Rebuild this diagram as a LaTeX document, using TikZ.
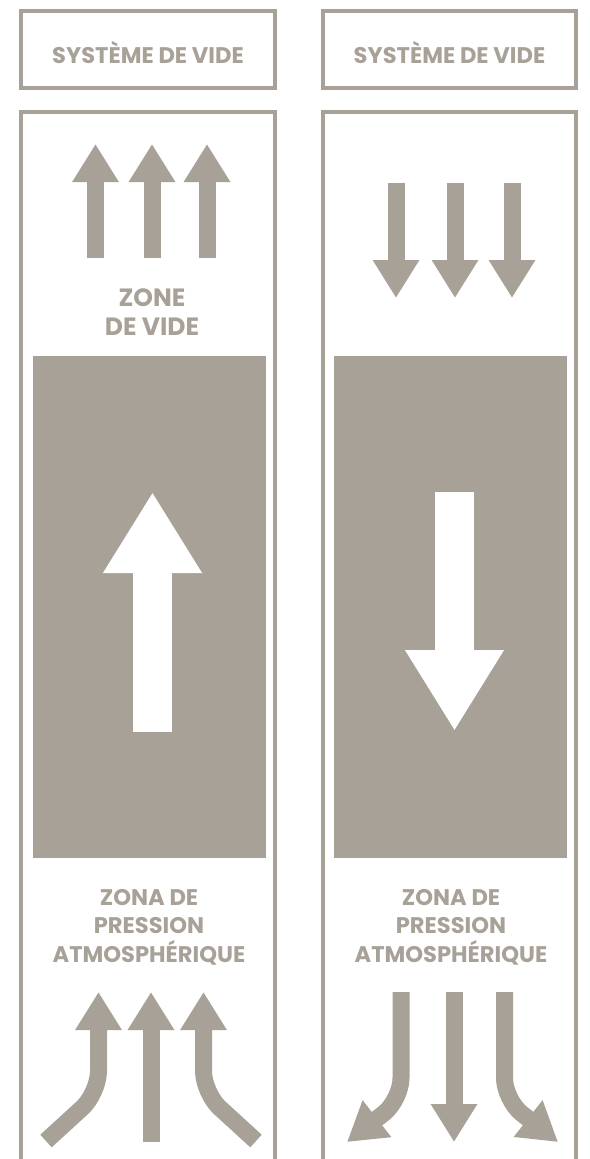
\documentclass[tikz,border=0pt]{standalone}
\usepackage{fontspec}
\setmainfont{Poppins}
\usetikzlibrary{arrows.meta}
\definecolor{warmgrey}{RGB}{168,161,151}
\begin{document}
\begin{tikzpicture}[x=1pt,y=-1pt,
  frame/.style={draw=warmgrey,line width=4pt},
  panel/.style={fill=warmgrey},
  lbl/.style={text=warmgrey,font=\bfseries\fontsize{22.6}{26}\selectfont,anchor=base,inner sep=0pt},
  biglbl/.style={lbl,font=\bfseries\fontsize{25}{29}\selectfont},
  flow/.style={draw=warmgrey,line width=17pt,line cap=butt,-{Triangle[length=38pt,width=44pt]}},
  bigflow/.style={draw=white,line width=39pt,line cap=butt,-{Triangle[length=81pt,width=93pt]}}]
\useasboundingbox[fill=white] (0,0) rectangle (589,1159);
% header boxes
\draw[frame] (21,11) rectangle (275,88);
\draw[frame] (323,11) rectangle (576,88);
\node[lbl] (h1) at (148,63) {SYSTÈME DE VIDE};
\node[lbl] (h2) at (449.5,63) {SYSTÈME DE VIDE};
% column frames
\draw[frame] (21,1159) -- (21,112) -- (275,112) -- (275,1159);
\draw[frame] (323,1159) -- (323,112) -- (576,112) -- (576,1159);
% panels
\fill[panel] (33,356) rectangle (266,858);
\fill[panel] (334,356) rectangle (567,858);
% big arrows
\draw[bigflow] (152.5,732) -- (152.5,492);
\draw[bigflow] (454.5,492) -- (454.5,731);
% top small arrows
\foreach \x in {95.5,152,207} \draw[flow] (\x,258) -- (\x,144);
\foreach \x in {396,455,512} \draw[flow] (\x,183) -- (\x,298);
% labels left
\node[biglbl] (z1) at (152,306) {ZONE};
\node[biglbl] (z2) at (152,335) {DE VIDE};
\node[lbl] (a1) at (149,905) {ZONA DE};
\node[lbl] (a2) at (149,933) {PRESSION};
\node[lbl] (a3) at (149,962) {ATMOSPHÉRIQUE};
% labels right
\node[lbl] (b1) at (451,905) {ZONA DE};
\node[lbl] (b2) at (451,933) {PRESSION};
\node[lbl] (b3) at (451,962) {ATMOSPHÉRIQUE};
% bottom left arrows (converging up)
\draw[flow] (151,1142) -- (151,992);
\draw[flow,rounded corners=22pt] (46,1141) -- (98.5,1093) -- (98.5,992);
\draw[flow,rounded corners=22pt] (256,1141) -- (203.5,1093) -- (203.5,992);
% bottom right arrows (diverging down)
\draw[flow] (454,992) -- (454,1142);
\draw[flow,rounded corners=22pt] (401,992) -- (401,1100) -- (347,1142);
\draw[flow,rounded corners=22pt] (504.5,992) -- (504.5,1100) -- (558,1142);
\end{tikzpicture}
\end{document}
